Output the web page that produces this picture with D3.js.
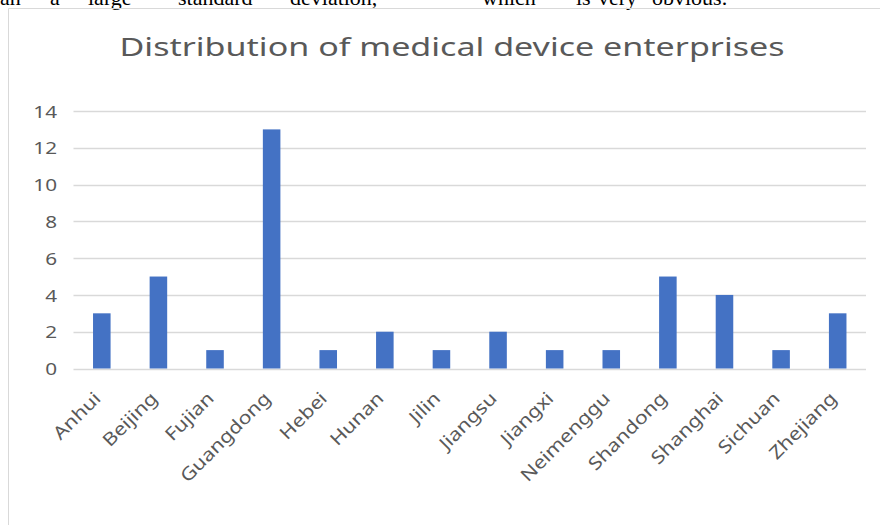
<!DOCTYPE html>
<html>
<head>
<meta charset="utf-8">
<script src="https://cdn.jsdelivr.net/npm/d3@7"></script>
<style>
  html, body { margin: 0; padding: 0; background: #ffffff; }
  svg { display: block; }
</style>
</head>
<body>
<svg id="chart" width="880" height="525"></svg>
<script>
const categories = ["Anhui","Beijing","Fujian","Guangdong","Hebei","Hunan","Jilin","Jiangsu","Jiangxi","Neimenggu","Shandong","Shanghai","Sichuan","Zhejiang"];
const values = [3,5,1,13,1,2,1,2,1,1,5,4,1,3];
const yTicks = [0,2,4,6,8,10,12,14];
const titleText = "Distribution of medical device enterprises";
const headerWords = [["an",0],["a",50],["large",88],["standard",178],["deviation,",290],["which",482],["is",576],["very",598],["obvious.",652]];

const svg = d3.select("#chart");
const font = "'Noto Sans', 'Open Sans', sans-serif";
const grey = "#595959";

// cropped body text line from the page above the chart
svg.append("g").selectAll("text").data(headerWords).join("text")
  .attr("x", d => d[1]).attr("y", 5)
  .attr("font-family", "'Liberation Serif', serif")
  .attr("font-size", 22).attr("fill", "#000")
  .text(d => d[0]);

// chart frame
svg.append("path")
  .attr("d", "M8.5,530 L8.5,8.5 L885,8.5")
  .attr("fill", "none").attr("stroke", "#d9d9d9").attr("stroke-width", 1);

const plotLeft = 73.5, plotRight = 866, plotTop = 111, plotBottom = 368.5;

const x = d3.scaleBand().domain(categories).range([plotLeft, plotRight]).paddingInner(0.69).paddingOuter(0.345);
const y = d3.scaleLinear().domain([0, 14]).range([plotBottom, plotTop]);

// gridlines
svg.append("g").selectAll("line").data(yTicks).join("line")
  .attr("x1", plotLeft).attr("x2", plotRight)
  .attr("y1", d => Math.round(y(d)) + 0.5).attr("y2", d => Math.round(y(d)) + 0.5)
  .attr("stroke", "#d9d9d9").attr("stroke-width", 1.5);

// y axis labels
const yAxis = d3.axisLeft(y).tickValues(yTicks).tickSize(0).tickPadding(0);
const gy = svg.append("g").attr("transform", `translate(${57},0)`).call(yAxis);
gy.select(".domain").remove();
gy.selectAll("text").attr("font-family", font).attr("font-size", 17).attr("fill", grey)
  .attr("dy", "0.36em").attr("transform", "scale(1.22,1)");

// bars
svg.append("g").selectAll("rect").data(values).join("rect")
  .attr("x", (d, i) => x(categories[i]))
  .attr("width", x.bandwidth())
  .attr("y", d => y(d))
  .attr("height", d => y(0) - y(d))
  .attr("fill", "#4472c4");

// x labels
const xAxis = d3.axisBottom(x).tickSize(0).tickPadding(0);
const gx = svg.append("g").attr("transform", `translate(0,${plotBottom})`).call(xAxis);
gx.select(".domain").remove();
gx.selectAll(".tick text")
  .attr("font-family", font).attr("font-size", 18).attr("fill", grey)
  .attr("text-anchor", "end")
  .attr("dy", 0).attr("y", 0)
  .attr("transform", "translate(0,31) rotate(-45) scale(1.18,1)");

// title
svg.append("text")
  .attr("x", 452).attr("y", 56)
  .attr("text-anchor", "middle")
  .attr("font-family", font).attr("font-size", 26).attr("fill", grey)
  .attr("textLength", 665).attr("lengthAdjust", "spacingAndGlyphs")
  .text(titleText);
</script>
</body>
</html>
